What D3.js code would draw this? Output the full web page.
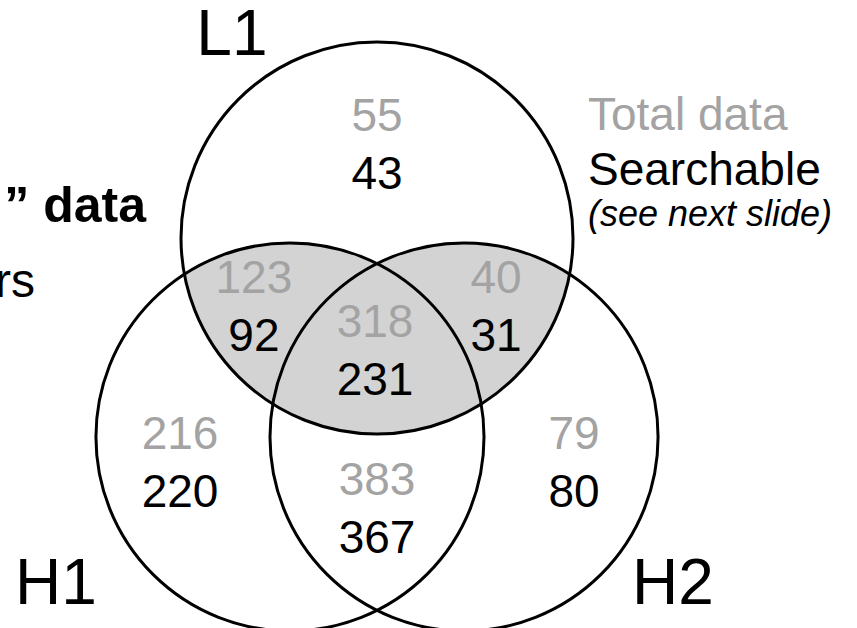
<html>
<head>
<title>Venn</title>
<script src="https://cdn.jsdelivr.net/npm/d3@7"></script>
<style>
    body { margin: 0; background: #fff; }
    text { font-family: "Liberation Sans", Arial, Helvetica, sans-serif; }
</style>
</head>
<body>
<script>
let w = 857
let h = 628

// values
let sets = ["L1", "H1", "H2"]
let regions = ["L1", "L1 H1", "L1 H1 H2", "L1 H2", "H1", "H1 H2", "H2"]
let total_data = [55, 123, 318, 40, 216, 383, 79]
let searchable = [43, 92, 231, 31, 220, 367, 80]
let legend_labels = ["Total data", "Searchable", "(see next slide)"]
let side_labels = ["\u201D data", "rs"]

// layout in venn units (1 = radius of L1)
let circle_pos = [[0, 0, 1], [-0.444, 1.015, 0.99], [0.444, 1.015, 0.99]]
let set_label_pos = [[-0.74, -0.934], [-1.638, 1.867], [1.51, 1.867]]
let region_pos = [[0, -0.546], [-0.628, 0.281], [-0.01, 0.505], [0.607, 0.281],
                  [-1.005, 1.077], [0, 1.311], [1.005, 1.077]]

let x = d3.scaleLinear().domain([-1, 1]).range([181, 573])
let y = d3.scaleLinear().domain([-1, 1]).range([42, 434])
let r = (v) => x(v) - x(0)

let gray = "#a3a3a3"

let svg = d3.select("body")
            .append("svg")
            .attr("width", w)
            .attr("height", h)

let circles = sets.map((s, i) => {
    return {name: s, cx: circle_pos[i][0], cy: circle_pos[i][1], r: circle_pos[i][2]}
})

// shaded part: L1 inside H1 or H2
svg.append("defs")
   .append("clipPath")
   .attr("id", "hclip")
   .selectAll("circle")
   .data(circles.slice(1))
   .enter()
   .append("circle")
   .attr("cx", (d) => x(d.cx))
   .attr("cy", (d) => y(d.cy))
   .attr("r", (d) => r(d.r))

svg.append("circle")
   .attr("cx", x(circles[0].cx))
   .attr("cy", y(circles[0].cy))
   .attr("r", r(circles[0].r))
   .attr("fill", "#d3d3d3")
   .attr("clip-path", "url(#hclip)")

svg.selectAll(".ring")
   .data(circles)
   .enter()
   .append("circle")
   .attr("class", "ring")
   .attr("cx", (d) => x(d.cx))
   .attr("cy", (d) => y(d.cy))
   .attr("r", (d) => r(d.r))
   .attr("fill", "none")
   .attr("stroke", "#000")
   .attr("stroke-width", 3)

svg.selectAll(".setlabel")
   .data(sets)
   .enter()
   .append("text")
   .attr("class", "setlabel")
   .attr("x", (d, i) => x(set_label_pos[i][0]))
   .attr("y", (d, i) => y(set_label_pos[i][1]))
   .attr("text-anchor", "middle")
   .attr("font-size", 64)
   .text((d) => d)

// numbers: total in gray, searchable in black just below
let nums = regions.map((reg, i) => {
    return {region: reg, total: total_data[i], search: searchable[i], u: region_pos[i][0], v: region_pos[i][1]}
})
svg.selectAll(".total")
   .data(nums)
   .enter()
   .append("text")
   .attr("class", "total")
   .attr("x", (d) => x(d.u))
   .attr("y", (d) => y(d.v))
   .attr("text-anchor", "middle")
   .attr("font-size", 46)
   .attr("fill", gray)
   .text((d) => d.total)
svg.selectAll(".search")
   .data(nums)
   .enter()
   .append("text")
   .attr("class", "search")
   .attr("x", (d) => x(d.u))
   .attr("y", (d) => y(d.v) + 58)
   .attr("text-anchor", "middle")
   .attr("font-size", 46)
   .attr("fill", "#000")
   .text((d) => d.search)

// legend on the right
let legend = svg.append("g").attr("transform", "translate(588,0)")
legend.append("text").attr("y", 130).attr("font-size", 46).attr("fill", gray).text(legend_labels[0])
legend.append("text").attr("y", 185).attr("font-size", 46).attr("fill", "#000").text(legend_labels[1])
legend.append("text").attr("y", 226).attr("font-size", 36).attr("font-style", "italic").attr("fill", "#000").text(legend_labels[2])

// text cut off at the left edge
svg.append("text").attr("x", 146).attr("y", 222).attr("text-anchor", "end")
   .attr("font-size", 50).attr("font-weight", "bold").text(side_labels[0])
svg.append("text").attr("x", 35).attr("y", 297).attr("text-anchor", "end")
   .attr("font-size", 48).text(side_labels[1])
</script>
</body>
</html>
